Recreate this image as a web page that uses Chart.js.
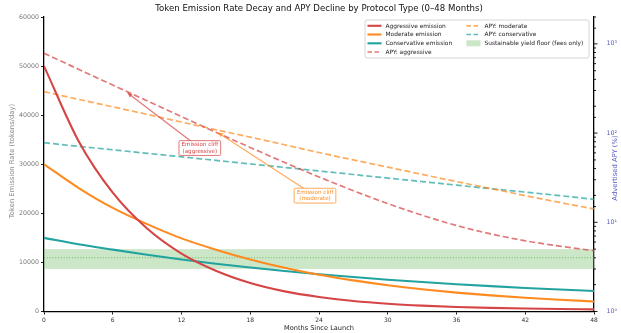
<!DOCTYPE html>
<html><head><meta charset="utf-8">
<script src="https://cdn.jsdelivr.net/npm/chart.js@4.4.0/dist/chart.umd.min.js"></script>
<style>html,body{margin:0;padding:0;background:#fff}#wrap{width:621px;height:333px}</style>
</head><body><div id="wrap"><canvas id="c" width="621" height="333"></canvas></div>
<script>
// ---- data ----
const months = [0,3,6,9,12,15,18,21,24,27,30,33,36,39,42,45,48];
const aggressiveEmission   = [50000,34800,24200,16900,11800,8300,5800,4100,2960,2140,1580,1190,910,730,600,500,440];
const moderateEmission     = [30000,25200,21100,17800,14900,12600,10600,8900,7500,6340,5360,4540,3850,3280,2790,2390,2050];
const conservativeEmission = [15000,13700,12600,11550,10600,9740,8960,8250,7600,7020,6480,6000,5560,5160,4800,4470,4170];
const apyAggressive    = [785,520,345,230,153,102,69,46.8,32.2,22.6,16.2,12.0,9.2,7.4,6.2,5.4,4.8];
const apyModerate      = [291,239,197,162,133,109,90,74,60.5,50,41.5,34.4,28.6,23.9,19.9,16.7,14.1];
const apyConservative  = [78,71,65,59.3,54.2,49.4,45.1,41.2,37.6,34.3,31.3,28.6,26.1,23.8,21.8,19.9,18.1];
const floorBand = [3, 5];      // sustainable yield floor, APY %
const floorLine = 4;           // APY %
const xTicks = [0,6,12,18,24,30,36,42,48];
const leftTicks = [0,10000,20000,30000,40000,50000,60000];
const apyMajorTicks = [1,10,100,1000];
const apyTickLabels = ['10\u2070','10\u00B9','10\u00B2','10\u00B3'];
// annotations: text position (month, tokens/day) and arrow target (month, tokens/day)
const cliffAggressive = {lines:['Emission cliff','(aggressive)'], at:[13.6,33300], to:[7.3,44500]};
const cliffModerate   = {lines:['Emission cliff','(moderate)'],   at:[23.65,23600], to:[15.2,36400]};

const FONT = "'DejaVu Sans', sans-serif";
const RED = '#d64545', ORANGE = '#ff8a1f', TEAL = '#22a39f';
const RED_A = 'rgba(214,69,69,0.72)', ORANGE_A = 'rgba(255,138,31,0.72)', TEAL_A = 'rgba(34,163,159,0.72)';
const APYBLUE = '#5a5ac2';

function pts(arr){ return months.map((m,i)=>({x:m,y:arr[i]})); }

const datasets = [
  {label:'Aggressive emission', data:pts(aggressiveEmission), borderColor:RED, borderWidth:2.1, yAxisID:'y'},
  {label:'Moderate emission', data:pts(moderateEmission), borderColor:ORANGE, borderWidth:2.1, yAxisID:'y'},
  {label:'Conservative emission', data:pts(conservativeEmission), borderColor:TEAL, borderWidth:2.1, yAxisID:'y'},
  {label:'APY: aggressive', data:pts(apyAggressive), borderColor:RED_A, borderWidth:1.7, borderDash:[6,3], yAxisID:'y1'},
  {label:'APY: moderate', data:pts(apyModerate), borderColor:ORANGE_A, borderWidth:1.7, borderDash:[6,3], yAxisID:'y1'},
  {label:'APY: conservative', data:pts(apyConservative), borderColor:TEAL_A, borderWidth:1.7, borderDash:[6,3], yAxisID:'y1'}
];
datasets.forEach(d=>{ d.pointRadius=0; d.fill=false; d.cubicInterpolationMode='monotone'; });

const decor = {
  id:'decor',
  beforeDatasetsDraw(chart){
    const {ctx, chartArea:a, scales:{y1}} = chart;
    const t = y1.getPixelForValue(floorBand[1]), b = y1.getPixelForValue(floorBand[0]);
    ctx.save();
    ctx.fillStyle = 'rgba(120,190,110,0.38)';
    ctx.fillRect(a.left, t, a.right-a.left, b-t);
    const yl = y1.getPixelForValue(floorLine);
    ctx.strokeStyle = 'rgba(80,165,70,0.75)'; ctx.lineWidth = 1.1; ctx.setLineDash([1,1.8]);
    ctx.beginPath(); ctx.moveTo(a.left, yl); ctx.lineTo(a.right, yl); ctx.stroke();
    ctx.restore();
  },
  afterDatasetsDraw(chart){
    const {ctx, scales:{x,y}} = chart;
    function ann(o, col, colA){
      const cx = x.getPixelForValue(o.at[0]), cy = y.getPixelForValue(o.at[1]);
      const tx = x.getPixelForValue(o.to[0]), ty = y.getPixelForValue(o.to[1]);
      ctx.save();
      ctx.strokeStyle = colA; ctx.fillStyle = colA; ctx.lineWidth = 1.2;
      ctx.beginPath(); ctx.moveTo(cx,cy); ctx.lineTo(tx,ty); ctx.stroke();
      const ang = Math.atan2(ty-cy, tx-cx), L=4.5, W=2.3;
      ctx.beginPath(); ctx.moveTo(tx,ty);
      ctx.lineTo(tx - L*Math.cos(ang) + W*Math.sin(ang), ty - L*Math.sin(ang) - W*Math.cos(ang));
      ctx.lineTo(tx - L*Math.cos(ang) - W*Math.sin(ang), ty - L*Math.sin(ang) + W*Math.cos(ang));
      ctx.closePath(); ctx.fill();
      ctx.font = '5.6px '+FONT;
      const w = Math.max(...o.lines.map(s=>ctx.measureText(s).width));
      const lh = 6.3, bw = w+5, bh = lh*o.lines.length+2.2;
      ctx.fillStyle = '#fff'; ctx.strokeStyle = colA; ctx.lineWidth = 1;
      ctx.beginPath(); ctx.roundRect(cx-bw/2, cy-bh/2, bw, bh, 1.2); ctx.fill(); ctx.stroke();
      ctx.fillStyle = col; ctx.textAlign='center'; ctx.textBaseline='middle';
      o.lines.forEach((s,i)=>ctx.fillText(s, cx, cy-bh/2+1.1+lh*(i+0.5)));
      ctx.restore();
    }
    ann(cliffAggressive, RED, RED_A);
    ann(cliffModerate, ORANGE, ORANGE_A);
  },
  afterDraw(chart){
    const {ctx, chartArea:a, scales:{y1}} = chart;
    ctx.save();
    // right minor/major ticks
    ctx.strokeStyle = '#000'; ctx.lineWidth = 0.9;
    y1.ticks.forEach(t=>{
      const v = t.value; const yy = y1.getPixelForValue(v);
      const major = apyMajorTicks.includes(v);
      ctx.beginPath(); ctx.moveTo(a.right, yy); ctx.lineTo(a.right + (major?3.5:2), yy); ctx.stroke();
    });
    // title
    ctx.fillStyle = '#111'; ctx.font = '8.6px '+FONT; ctx.textAlign='center'; ctx.textBaseline='middle';
    ctx.fillText('Token Emission Rate Decay and APY Decline by Protocol Type (0\u201348 Months)', (a.left+a.right)/2, 8.5);
    // axis titles
    ctx.font = '6.6px '+FONT; ctx.fillStyle='#222';
    ctx.fillText('Months Since Launch', (a.left+a.right)/2, 328);
    ctx.save(); ctx.translate(12, 161); ctx.rotate(-Math.PI/2);
    ctx.fillStyle='#888'; ctx.font='6.8px '+FONT; ctx.fillText('Token Emission Rate (tokens/day)', 0, 0); ctx.restore();
    ctx.save(); ctx.translate(615, 168); ctx.rotate(-Math.PI/2);
    ctx.fillStyle=APYBLUE; ctx.font='6.8px '+FONT; ctx.fillText('Advertised APY (%)', 0, 0); ctx.restore();
    // legend
    const lx=365, ly=20, lw=224, lh=38;
    ctx.fillStyle='rgba(255,255,255,0.85)'; ctx.strokeStyle='#cccccc'; ctx.lineWidth=0.8;
    ctx.beginPath(); ctx.roundRect(lx,ly,lw,lh,2); ctx.fill(); ctx.stroke();
    const items = [
      [datasets[0],0,0],[datasets[1],0,1],[datasets[2],0,2],[datasets[3],0,3],
      [datasets[4],1,0],[datasets[5],1,1],[{label:'Sustainable yield floor (fees only)', band:true},1,2]
    ];
    const colX=[367.5,466.5], rowY=[25.8,34.5,43.3,52.0];
    ctx.font='5.9px '+FONT; ctx.textAlign='left'; ctx.textBaseline='middle';
    items.forEach(([d,c,r])=>{
      const hx=colX[c], hy=rowY[r];
      if(d.band){
        ctx.fillStyle='rgba(120,190,110,0.38)'; ctx.fillRect(hx, hy-3, 14, 6);
      } else {
        ctx.strokeStyle=d.borderColor; ctx.lineWidth=d.borderWidth;
        ctx.setLineDash(d.borderDash? [4.5,2.5]:[]);
        ctx.beginPath(); ctx.moveTo(hx,hy); ctx.lineTo(hx+14,hy); ctx.stroke();
        ctx.setLineDash([]);
      }
      ctx.fillStyle='#222'; ctx.fillText(d.label, hx+18, hy+0.3);
    });
    ctx.restore();
  }
};

new Chart(document.getElementById('c'), {
  type:'line',
  data:{datasets},
  options:{
    responsive:false, animation:false, devicePixelRatio:1,
    layout:{padding:{top:17,left:0,right:0,bottom:0}},
    plugins:{legend:{display:false}, title:{display:false}, tooltip:{enabled:false}},
    scales:{
      x:{type:'linear', min:0, max:48,
        afterBuildTicks:s=>{s.ticks=xTicks.map(v=>({value:v}));},
        ticks:{font:{size:6,family:FONT}, color:'#333', padding:2.5, maxRotation:0, autoSkip:false},
        grid:{drawOnChartArea:false, tickLength:3, color:'#000', lineWidth:0.9},
        border:{color:'#000', width:1.3},
        afterFit:s=>{s.height=21.5;}
      },
      y:{type:'linear', position:'left', min:0, max:60000,
        afterBuildTicks:s=>{s.ticks=leftTicks.map(v=>({value:v}));},
        ticks:{font:{size:6.3,family:FONT}, color:'#777', padding:2, autoSkip:false, callback:v=>String(v)},
        grid:{drawOnChartArea:false, tickLength:3, color:'#000', lineWidth:0.9},
        border:{color:'#000', width:1.3},
        afterFit:s=>{s.width=44;}
      },
      y1:{type:'logarithmic', position:'right', min:1, max:2000,
        ticks:{font:{size:6.3,family:FONT}, color:APYBLUE, padding:4.5, autoSkip:false,
          callback:v=>{const i=apyMajorTicks.indexOf(v); return i>=0?apyTickLabels[i]:'';}},
        grid:{display:false},
        border:{color:'#000', width:1.3},
        afterFit:s=>{s.width=27;}
      }
    }
  },
  plugins:[decor]
});
</script>
</body></html>
